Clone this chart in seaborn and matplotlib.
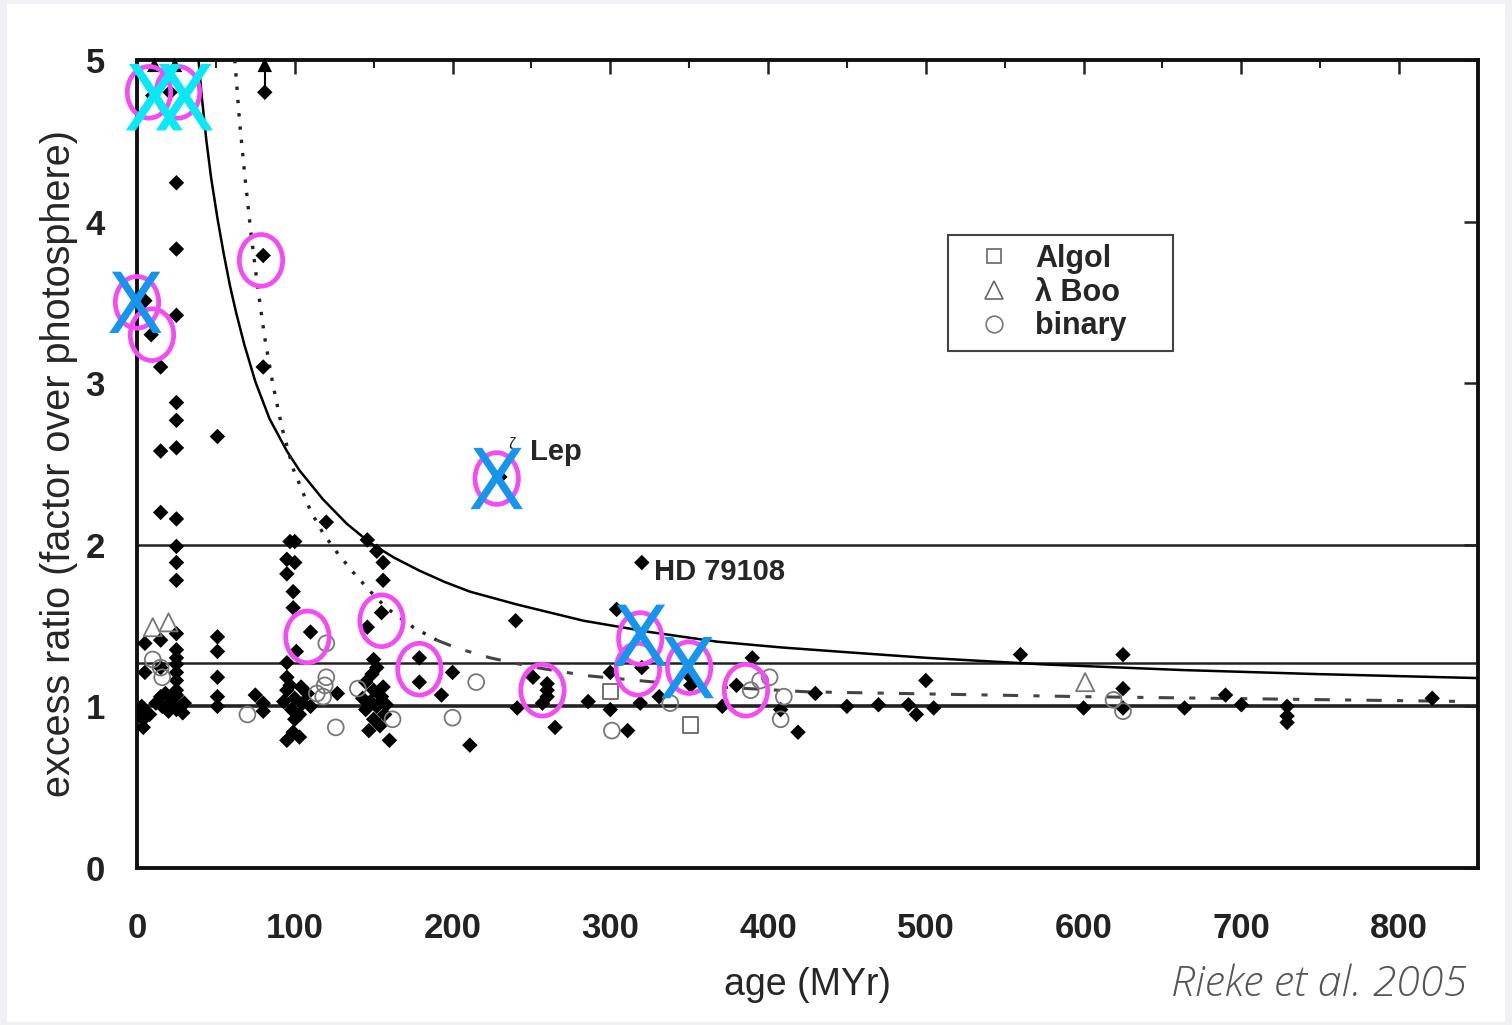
import matplotlib
matplotlib.use("Agg")
import matplotlib.pyplot as plt
import seaborn as sns
from matplotlib.patches import Ellipse, Rectangle
from matplotlib.lines import Line2D
from matplotlib.ticker import MultipleLocator

# --- values: age (MYr), excess ratio ---
debris_age = [10, 21, 81, 25, 25, 80, 5, 25, 9, 15, 80, 25, 25, 51, 15, 25, 15, 25, 25, 25, 25,
              5, 15, 25, 25, 25, 25, 25, 25, 5, 15, 15, 25, 4, 4, 4, 16, 29, 51, 51, 51, 51, 51,
              75, 80, 80, 12, 18, 20, 22, 28, 30, 8, 3, 3, 25, 25,
              120, 97, 100, 95, 100, 95, 99, 99, 110, 101, 95, 95, 95, 100, 105, 98, 103, 108,
              93, 100, 95, 103, 99, 127, 110, 97, 104,
              146, 152, 156, 156, 155, 146, 150, 152, 145, 150, 155, 148, 152, 145, 157, 150,
              154, 147, 160, 149, 156, 143, 158,
              240, 179, 200, 179, 193, 241, 211, 251, 260, 260, 260, 257, 265, 286, 230, 320,
              304, 320, 300, 300, 311, 390, 380, 371, 408, 419, 351, 331, 319, 351,
              430, 450, 470, 489, 494, 505, 500, 560, 600, 625, 625, 625, 664, 690, 700, 729,
              729, 729, 821]
debris_ratio = [4.78, 4.80, 4.80, 4.24, 3.83, 3.79, 3.51, 3.42, 3.30, 3.10, 3.10, 2.88, 2.77, 2.67,
                2.58, 2.60, 2.20, 2.16, 1.99, 1.89, 1.78,
                1.39, 1.41, 1.45, 1.35, 1.26, 1.16, 1.07, 0.98, 1.21, 1.24, 1.06, 1.21, 0.98, 0.87,
                0.92, 1.00, 0.96, 1.43, 1.34, 1.18, 1.06, 1.00,
                1.07, 1.02, 0.97, 1.02, 1.08, 0.97, 1.03, 1.00, 1.02, 0.95, 1.00, 0.94, 1.30, 1.10,
                2.14, 2.02, 2.02, 1.91, 1.89, 1.82, 1.71, 1.61, 1.46, 1.34, 1.27, 1.18, 1.10, 1.05,
                1.02, 0.98, 0.95, 1.08, 1.03, 0.92, 0.79, 0.81, 0.84, 1.08, 1.00, 1.13, 1.12,
                2.03, 1.96, 1.89, 1.78, 1.58, 1.49, 1.29, 1.24, 1.15, 1.10, 1.06, 1.03, 1.00, 0.98,
                0.95, 0.92, 0.88, 0.85, 0.79, 1.20, 1.12, 1.05, 1.01,
                1.53, 1.30, 1.21, 1.15, 1.07, 0.99, 0.76, 1.18, 1.14, 1.10, 1.06, 1.02, 0.87, 1.03,
                2.42, 1.89, 1.60, 1.24, 1.21, 0.98, 0.85, 1.30, 1.13, 1.00, 0.98, 0.84, 1.13, 1.06,
                1.02, 1.18,
                1.08, 1.00, 1.01, 1.01, 0.95, 0.99, 1.16, 1.32, 0.99, 1.32, 1.11, 0.99, 0.99, 1.07,
                1.01, 1.00, 0.94, 0.90, 1.05]

algol_age = [300, 351]
algol_ratio = [1.09, 0.885]
lamboo_age = [10, 20, 601]
lamboo_ratio = [1.49, 1.52, 1.15]
binary_age = [10, 15, 16, 70, 120, 120, 119, 114, 118, 126, 140, 162, 215, 200, 301, 338,
              389, 395, 401, 410, 408, 619, 625]
binary_ratio = [1.29, 1.24, 1.18, 0.95, 1.39, 1.18, 1.13, 1.08, 1.06, 0.87, 1.11, 0.92, 1.15,
                0.93, 0.85, 1.02, 1.10, 1.16, 1.18, 1.06, 0.92, 1.04, 0.97]

# off-scale points (arrows at the top)
offscale_age = [11, 24, 81]
offscale_top = [4.97, 4.97, 4.97]
shaft_age = [81]
shaft_low = [4.8]

# model curves
solid_age = [39, 41, 44, 47, 51, 55, 59, 63, 68, 75, 84, 95, 103, 118, 133, 148, 163, 179,
             195, 211, 241, 283, 325, 368, 408, 450, 501, 574, 662, 747, 850]
solid_ratio = [5.0, 4.78, 4.50, 4.27, 4.02, 3.80, 3.60, 3.43, 3.24, 3.01, 2.78, 2.58, 2.46,
               2.28, 2.13, 2.01, 1.92, 1.84, 1.77, 1.71, 1.63, 1.53, 1.46, 1.40, 1.365,
               1.335, 1.30, 1.26, 1.225, 1.20, 1.175]
dot_age = [62, 65, 68.5, 72, 76, 81, 86, 92, 99, 110, 118, 127, 137, 148, 158, 175, 190]
dot_ratio = [5.0, 4.62, 4.27, 3.95, 3.63, 3.28, 3.00, 2.72, 2.47, 2.21, 2.07, 1.95, 1.83,
             1.71, 1.61, 1.49, 1.41]
dashdot_age = [190, 203, 224, 250, 285, 350, 425, 600, 845]
dashdot_ratio = [1.41, 1.36, 1.30, 1.245, 1.19, 1.13, 1.09, 1.06, 1.03]

levels = [1.0, 1.27, 2.0]

# overlaid annotation marks
ring_age = [7.6, 26, 78.6, 0, 9.5, 108, 155, 179, 228, 257, 319, 317.5, 350, 386]
ring_ratio = [4.8, 4.8, 3.76, 3.5, 3.30, 1.43, 1.53, 1.23, 2.41, 1.10, 1.42, 1.23, 1.24, 1.10]
cyan_x_age = [11, 30]
cyan_x_ratio = [4.77, 4.77]
blue_x_age = [-1, 228, 319, 349]
blue_x_ratio = [3.5, 2.41, 1.44, 1.24]

sns.set_style("white")
plt.rcParams["font.family"] = ["Liberation Sans", "DejaVu Sans"]

fig = plt.figure(figsize=(15.12, 10.25), dpi=100, facecolor="#f0f0f5")
fig.add_artist(Rectangle((7 / 1512, 3 / 1025), 1498 / 1512, 1018 / 1025,
                         transform=fig.transFigure, facecolor="white",
                         edgecolor="none", zorder=0))
ax = fig.add_axes([0.0906, 0.1532, 0.8869, 0.7883])
ax.set_facecolor("white")

for lv in levels:
    ax.axhline(lv, color="#222222", lw=2.6 if lv == 1.0 else 1.8, zorder=2)

sns.lineplot(x=solid_age, y=solid_ratio, sort=False, color="black", lw=1.8,
             errorbar=None, ax=ax, zorder=3)
sns.lineplot(x=dot_age, y=dot_ratio, sort=False, color="#222222", lw=2.4,
             linestyle=(0, (1, 3.0)), errorbar=None, ax=ax, zorder=3)
sns.lineplot(x=dashdot_age, y=dashdot_ratio, sort=False, color="#444444", lw=2.2,
             linestyle=(0, (5, 5, 2, 5)), errorbar=None, ax=ax, zorder=3)

sns.scatterplot(x=debris_age, y=debris_ratio, marker="D", s=62, color="black",
                edgecolor="none", linewidth=0, ax=ax, zorder=4)
sns.scatterplot(x=binary_age, y=binary_ratio, marker="o", s=130, color="#777777",
                facecolor="none", edgecolor="#777777", linewidth=1.3, ax=ax, zorder=4)
sns.scatterplot(x=algol_age, y=algol_ratio, marker="s", s=120, color="#666666",
                facecolor="none", edgecolor="#666666", linewidth=1.3, ax=ax, zorder=4)
sns.scatterplot(x=lamboo_age, y=lamboo_ratio, marker="^", s=170, color="#777777",
                facecolor="none", edgecolor="#777777", linewidth=1.3, ax=ax, zorder=4)

ax.vlines(shaft_age, shaft_low, 4.97, color="black", lw=1.5, zorder=4)
sns.scatterplot(x=offscale_age, y=offscale_top, marker="^", s=110, color="black",
                edgecolor="none", clip_on=False, ax=ax, zorder=5)

ax.text(237.5, 2.62, "ζ", fontsize=12, ha="center", va="center", zorder=5)
ax.text(249, 2.575, "Lep", fontsize=21, fontweight="bold", va="center", zorder=5)
ax.text(327.5, 1.83, "HD 79108", fontsize=21, fontweight="bold", va="center", zorder=5)

for a, r in zip(ring_age, ring_ratio):
    ax.add_patch(Ellipse((a, r), width=27.5, height=0.32, facecolor="none",
                         edgecolor="#f44cf4", lw=3.4, zorder=6, clip_on=False))

sns.scatterplot(x=cyan_x_age, y=cyan_x_ratio, marker=r"$\mathsf{X}$", s=2300,
                color="#08e8f6", edgecolor="none", linewidth=0, clip_on=False,
                ax=ax, zorder=7)
sns.scatterplot(x=blue_x_age, y=blue_x_ratio, marker=r"$\mathsf{X}$", s=1950,
                color="#1595ee", edgecolor="none", linewidth=0, clip_on=False,
                ax=ax, zorder=7)

ax.set_xlim(0, 850)
ax.set_ylim(0, 5)
ax.xaxis.set_major_locator(MultipleLocator(100))
ax.xaxis.set_minor_locator(MultipleLocator(50))
ax.yaxis.set_major_locator(MultipleLocator(1))
ax.tick_params(which="both", direction="in", top=True, right=True, colors="#222222")
ax.tick_params(which="major", length=10, width=1.8, labelsize=25)
ax.tick_params(which="minor", length=6, width=1.5)
ax.tick_params(axis="x", which="major", pad=32)
ax.tick_params(axis="y", which="major", pad=23)
for lab in ax.get_xticklabels() + ax.get_yticklabels():
    lab.set_fontweight("bold")
for sp in ax.spines.values():
    sp.set_linewidth(2.8)
    sp.set_color("#111111")
    sp.set_visible(True)

ax.set_xlabel("age (MYr)", fontsize=27)
ax.xaxis.label.set_va("center")
ax.xaxis.set_label_coords(0.5, -0.145)
ax.set_ylabel("excess ratio (factor over photosphere)", fontsize=28.5)
ax.yaxis.label.set_va("center")
ax.yaxis.set_label_coords(-0.0585, 0.5)

handles = [
    Line2D([], [], ls="none", marker="s", ms=10, mfc="none", mec="#666666", mew=1.2, label="Algol"),
    Line2D([], [], ls="none", marker="^", ms=13, mfc="none", mec="#666666", mew=1.2, label="λ Boo"),
    Line2D([], [], ls="none", marker="o", ms=12, mfc="none", mec="#777777", mew=1.2, label="binary"),
]
leg = ax.legend(handles=handles, loc="upper left", bbox_to_anchor=(0.6048, 0.6436, 0.1678, 0.1398),
                mode="expand", prop={"weight": "bold", "size": 22},
                frameon=True, fancybox=False, edgecolor="#444444", framealpha=1,
                borderpad=0.3, labelspacing=0.12, handlelength=2.4, handletextpad=0.15,
                borderaxespad=0)
leg.get_frame().set_linewidth(1.5)
leg.set_zorder(5)

fig.text(1467 / 1512, 1 - 985 / 1025, "Rieke et al. 2005", ha="right", va="center",
         fontsize=31, style="italic", color="#555555", family=["Open Sans", "DejaVu Sans"],
         fontweight="light")

fig.savefig("out.png", dpi=100, facecolor=fig.get_facecolor())
